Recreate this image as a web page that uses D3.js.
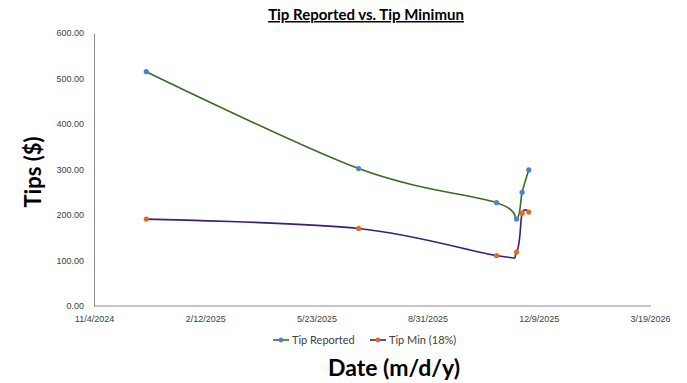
<!DOCTYPE html>
<html>
<head>
<meta charset="utf-8">
<script src="https://cdn.jsdelivr.net/npm/d3@7"></script>
<style>
  body { margin: 0; background: #fff; }
  svg { font-family: Lato, "Open Sans", sans-serif; }
</style>
</head>
<body>
<div class="chart"></div>
<script>
// data
const dates = ["2024-12-21", "2025-06-30", "2025-11-01", "2025-11-19", "2025-11-24", "2025-11-30"];
const tipReported = [515, 302, 227, 191, 250, 299];
const tipMin = [191, 170.5, 111, 118.5, 204, 206.5];
const xTicks = ["2024-11-04", "2025-02-12", "2025-05-23", "2025-08-31", "2025-12-09", "2026-03-19"];
const yTicks = [0, 100, 200, 300, 400, 500, 600];

const width = 687, height = 383;
const parse = d3.utcParse("%Y-%m-%d");

const svg = d3.select(".chart").append("svg")
  .attr("width", width)
  .attr("height", height);

const x = d3.scaleUtc()
  .domain([parse(xTicks[0]), parse(xTicks[xTicks.length - 1])])
  .range([94, 650]);
const y = d3.scaleLinear().domain([0, 600]).range([306, 33]);

// axes
const yAxis = d3.axisLeft(y).tickValues(yTicks).tickSize(0).tickPadding(10)
  .tickFormat(d3.format(".2f"));
const xAxis = d3.axisBottom(x).tickValues(xTicks.map(parse)).tickSize(0).tickPadding(10)
  .tickFormat(d => `${d.getUTCMonth() + 1}/${d.getUTCDate()}/${d.getUTCFullYear()}`);

svg.append("g").attr("transform", "translate(94,0)").call(yAxis)
  .call(g => g.select(".domain").attr("stroke", "#8c8c8c"))
  .selectAll("text").attr("fill", "#404040").style("font-size", "9px");

svg.append("g").attr("transform", "translate(0,306)").call(xAxis)
  .call(g => g.select(".domain").attr("d", "M94,0H651").attr("stroke", "#8c8c8c"))
  .selectAll("text").attr("fill", "#404040").style("font-size", "9px");

// series
const series = [
  { name: "Tip Reported", values: tipReported, line: "#3b6a24", dot: "#4a86c8" },
  { name: "Tip Min (18%)", values: tipMin, line: "#3d1c7a", dot: "#e06a26" }
];

const line = d3.line()
  .x(d => x(d.date))
  .y(d => y(d.v))
  .curve(d3.curveCardinal.tension(0));

series.forEach(s => {
  const pts = dates.map((d, i) => ({ date: parse(d), v: s.values[i] }));
  svg.append("path")
    .datum(pts)
    .attr("fill", "none")
    .attr("stroke", s.line)
    .attr("stroke-width", 1.6)
    .attr("d", line);
  svg.append("g").selectAll("circle")
    .data(pts)
    .join("circle")
    .attr("cx", d => x(d.date))
    .attr("cy", d => y(d.v))
    .attr("r", 2.6)
    .attr("fill", s.dot);
});

// title
svg.append("text")
  .attr("x", 366).attr("y", 20)
  .attr("text-anchor", "middle")
  .style("font-size", "15px").style("font-weight", "bold")
  .style("text-decoration", "underline")
  .attr("fill", "#000")
  .text("Tip Reported vs. Tip Minimun");

// axis titles
svg.append("text")
  .attr("transform", "translate(41,172) rotate(-90)")
  .attr("text-anchor", "middle")
  .style("font-size", "22px").style("font-weight", "bold")
  .text("Tips ($)");

svg.append("text")
  .attr("x", 394).attr("y", 376)
  .attr("text-anchor", "middle")
  .style("font-size", "23px").style("font-weight", "bold")
  .text("Date (m/d/y)");

// legend
const legend = svg.append("g").attr("transform", "translate(273,340)");
const legendX = [0, 97];
series.forEach((s, i) => {
  const g = legend.append("g").attr("transform", `translate(${legendX[i]},0)`);
  g.append("line").attr("x1", 0).attr("x2", 16).attr("stroke", s.line).attr("stroke-width", 1.6);
  g.append("circle").attr("cx", 8).attr("r", 2.4).attr("fill", s.dot);
  g.append("text").attr("x", 19).attr("dy", "0.35em")
    .style("font-size", "11px").attr("fill", "#404040").text(s.name);
});
</script>
</body>
</html>
